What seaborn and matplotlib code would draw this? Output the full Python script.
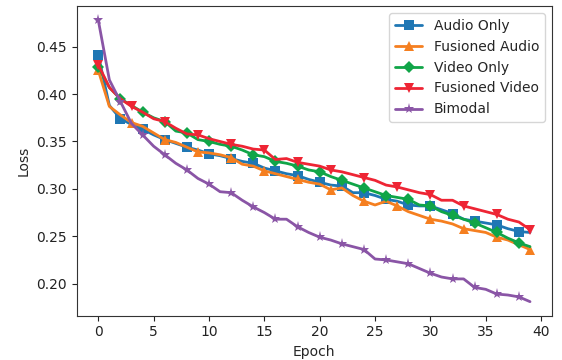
import matplotlib
matplotlib.use('Agg')
import matplotlib.pyplot as plt
import numpy as np
import pandas as pd
import seaborn as sns

# Loss per epoch
epochs = list(range(40))

audio_only = [0.441, 0.388, 0.374, 0.368, 0.363, 0.357, 0.352, 0.348, 0.344, 0.341,
              0.337, 0.335, 0.332, 0.329, 0.327, 0.322, 0.319, 0.316, 0.314, 0.310,
              0.307, 0.304, 0.303, 0.296, 0.296, 0.293, 0.289, 0.287, 0.283, 0.282,
              0.282, 0.278, 0.274, 0.268, 0.266, 0.264, 0.262, 0.258, 0.255, 0.254]

fusioned_audio = [0.425, 0.387, 0.378, 0.370, 0.366, 0.359, 0.352, 0.349, 0.344, 0.339,
                  0.338, 0.336, 0.333, 0.326, 0.324, 0.319, 0.316, 0.313, 0.310, 0.307,
                  0.305, 0.299, 0.301, 0.293, 0.287, 0.283, 0.287, 0.282, 0.276, 0.272,
                  0.268, 0.266, 0.263, 0.258, 0.256, 0.254, 0.249, 0.246, 0.241, 0.236]

video_only = [0.429, 0.407, 0.395, 0.388, 0.381, 0.375, 0.371, 0.361, 0.359, 0.352,
              0.350, 0.347, 0.345, 0.341, 0.336, 0.334, 0.329, 0.327, 0.324, 0.320,
              0.318, 0.313, 0.309, 0.305, 0.301, 0.297, 0.293, 0.291, 0.289, 0.283,
              0.282, 0.276, 0.272, 0.268, 0.264, 0.259, 0.254, 0.248, 0.243, 0.239]

fusioned_video = [0.431, 0.407, 0.395, 0.387, 0.381, 0.374, 0.371, 0.364, 0.358, 0.357,
                  0.353, 0.350, 0.347, 0.345, 0.342, 0.341, 0.331, 0.332, 0.328, 0.326,
                  0.324, 0.320, 0.318, 0.315, 0.312, 0.309, 0.304, 0.302, 0.299, 0.296,
                  0.294, 0.288, 0.288, 0.282, 0.279, 0.276, 0.273, 0.268, 0.265, 0.257]

bimodal = [0.478, 0.415, 0.392, 0.369, 0.357, 0.345, 0.336, 0.327, 0.320, 0.311,
           0.305, 0.297, 0.296, 0.288, 0.281, 0.275, 0.268, 0.268, 0.260, 0.254,
           0.249, 0.246, 0.242, 0.239, 0.236, 0.226, 0.225, 0.223, 0.221, 0.216,
           0.211, 0.207, 0.205, 0.205, 0.196, 0.194, 0.189, 0.188, 0.186, 0.181]

series_names = ['Audio Only', 'Fusioned Audio', 'Video Only', 'Fusioned Video', 'Bimodal']
series_values = [audio_only, fusioned_audio, video_only, fusioned_video, bimodal]

# stile di ogni curva
colors = ['#1f77b4', '#f57f20', '#10a548', '#ee2534', '#8a55a6']
markers = ['s', '^', 'D', 'v', '*']
mark_every = [2, 3, 2, 3, 2]
marker_sizes = [6.5, 6.5, 6.5, 6.5, 8]

sns.set_style('ticks')
plt.rcParams['font.family'] = ['DejaVu Sans']
plt.rcParams['axes.edgecolor'] = '#333333'

df = pd.DataFrame({'Epoch': np.tile(epochs, len(series_names)),
                   'Loss': np.concatenate(series_values),
                   'Serie': np.repeat(series_names, len(epochs))})

fig = plt.figure(figsize=(5.62, 3.6), dpi=100)
ax = fig.add_axes([0.1365, 0.123, 0.845, 0.86])

for name, col, mk, me, ms in zip(series_names, colors, markers, mark_every, marker_sizes):
    sub = df[df['Serie'] == name]
    sns.lineplot(data=sub, x='Epoch', y='Loss', ax=ax, color=col, marker=mk,
                 markevery=me, markersize=ms, linewidth=2, markeredgewidth=0,
                 label=name)

ax.set_xticks([0, 5, 10, 15, 20, 25, 30, 35, 40])
ax.set_yticks([0.20, 0.25, 0.30, 0.35, 0.40, 0.45])
ax.set_xlabel('Epoch', fontsize=10)
ax.set_ylabel('Loss', fontsize=10)
ax.tick_params(labelsize=10, colors='#222222')
ax.legend(loc='upper right', fontsize=10, frameon=True)

fig.savefig('out.png', dpi=100)
